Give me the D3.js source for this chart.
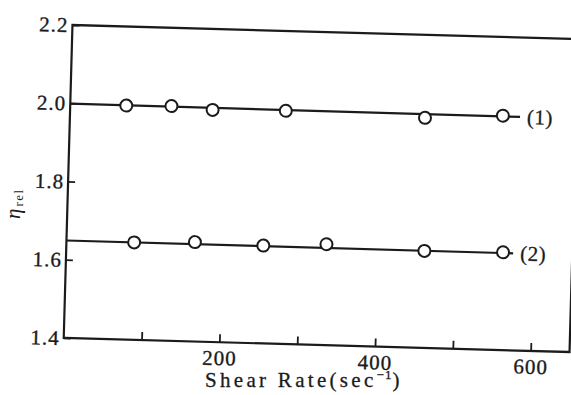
<!DOCTYPE html>
<html>
<head>
<meta charset="utf-8">
<script src="https://cdn.jsdelivr.net/npm/d3@7"></script>
<style>
    body { margin: 0; background: #fff; }
    svg { display: block; }
</style>
</head>
<body>
<svg id="chart" width="571" height="395"></svg>
<script>
(function () {
    'use strict';

    // shear rate (sec^-1) vs relative viscosity
    var rate1 = [72, 130, 183, 277, 456, 556];
    var eta1 = [1.998, 2.000, 1.993, 1.996, 1.988, 1.999];
    var rate2 = [87, 165, 253, 334, 460, 561];
    var eta2 = [1.649, 1.654, 1.650, 1.658, 1.648, 1.650];

    // end points of the straight fitted lines
    var fitRate1 = [0, 578];
    var fitEta1 = [1.999, 1.997];
    var fitRate2 = [0, 574];
    var fitEta2 = [1.649, 1.648];

    var curveNames = ['(1)', '(2)'];
    var xTicks = [100, 200, 300, 400, 500, 600];
    var xLabels = [200, 400, 600];
    var yTicks = [1.4, 1.6, 1.8, 2.0, 2.2];

    var INK = '#1b1b1b';
    var SERIF = '"Liberation Serif", "DejaVu Serif", serif';

    var svg = d3.select('#chart');
    var margin = { left: 68, right: 574, top: 32, bottom: 345 };

    var x = d3.scaleLinear().domain([0, 650]).range([margin.left, margin.right]);
    var y = d3.scaleLinear().domain([1.4, 2.2]).range([margin.bottom, margin.top]);

    // the printed figure sits a little askew on the page
    var cx = (margin.left + margin.right) / 2, cy = 188.5;
    var plot = svg.append('g').attr('transform', 'rotate(1.6 ' + cx + ' ' + cy + ')');

    var xAxis = d3.axisBottom(x)
        .tickValues(xTicks)
        .tickSizeInner(-8)
        .tickSizeOuter(0)
        .tickPadding(8)
        .tickFormat(function (d) { return xLabels.indexOf(d) >= 0 ? d : ''; });
    var yAxis = d3.axisLeft(y)
        .tickValues(yTicks)
        .tickSizeInner(-7)
        .tickSizeOuter(0)
        .tickPadding(4)
        .tickFormat(d3.format('.1f'));

    var gx = plot.append('g').attr('transform', 'translate(0,' + margin.bottom + ')').call(xAxis);
    var gy = plot.append('g').attr('transform', 'translate(' + margin.left + ',0)').call(yAxis);
    [gx, gy].forEach(function (g) {
        g.select('.domain').remove();
        g.selectAll('.tick line').attr('stroke', INK).attr('stroke-width', 1.8);
        g.selectAll('.tick text')
            .attr('fill', INK)
            .attr('stroke', INK)
            .attr('stroke-width', 0.35)
            .style('font-family', SERIF)
            .style('font-size', '21px')
            .style('letter-spacing', '1px');
    });

    plot.append('rect')
        .attr('x', margin.left)
        .attr('y', margin.top)
        .attr('width', margin.right - margin.left)
        .attr('height', margin.bottom - margin.top)
        .attr('fill', 'none')
        .attr('stroke', INK)
        .attr('stroke-width', 2.2);

    var line = d3.line()
        .x(function (d) { return x(d[0]); })
        .y(function (d) { return y(d[1]); });

    var curves = [
        { rate: rate1, eta: eta1, fitRate: fitRate1, fitEta: fitEta1, name: curveNames[0] },
        { rate: rate2, eta: eta2, fitRate: fitRate2, fitEta: fitEta2, name: curveNames[1] }
    ];

    curves.forEach(function (c) {
        var fit = d3.zip(c.fitRate, c.fitEta);
        plot.append('path')
            .attr('d', line(fit))
            .attr('fill', 'none')
            .attr('stroke', INK)
            .attr('stroke-width', 2.2);

        plot.append('g').selectAll('circle')
            .data(d3.zip(c.rate, c.eta))
            .enter()
            .append('circle')
            .attr('cx', function (d) { return x(d[0]); })
            .attr('cy', function (d) { return y(d[1]); })
            .attr('r', 6)
            .attr('fill', '#fff')
            .attr('stroke', INK)
            .attr('stroke-width', 2);

        var end = fit[fit.length - 1];
        plot.append('text')
            .attr('x', x(end[0]) + 7)
            .attr('y', y(end[1]) + 7)
            .attr('fill', INK)
            .attr('stroke', INK)
            .attr('stroke-width', 0.3)
            .style('font-family', SERIF)
            .style('font-size', '21px')
            .style('letter-spacing', '0.5px')
            .text(c.name);
    });

    // axis titles
    var title = svg.append('text')
        .attr('x', 205)
        .attr('y', 387)
        .attr('fill', INK)
        .attr('stroke', INK)
        .attr('stroke-width', 0.3)
        .style('font-family', SERIF)
        .style('font-size', '21px')
        .style('letter-spacing', '3.3px');
    title.append('tspan').text('Shear Rate(sec');
    title.append('tspan').attr('dy', -8).style('font-size', '13px').style('letter-spacing', '1px').text('\u22121');
    title.append('tspan').attr('dy', 8).text(')');

    var ylab = svg.append('text')
        .attr('transform', 'translate(20,219) rotate(-90)')
        .attr('fill', INK)
        .style('font-family', SERIF);
    ylab.append('tspan').style('font-style', 'italic').style('font-size', '21px').text('\u03b7');
    ylab.append('tspan').attr('dy', 3).attr('dx', 2).style('font-size', '13px').style('letter-spacing', '1.5px').text('rel');
}());
</script>
</body>
</html>
